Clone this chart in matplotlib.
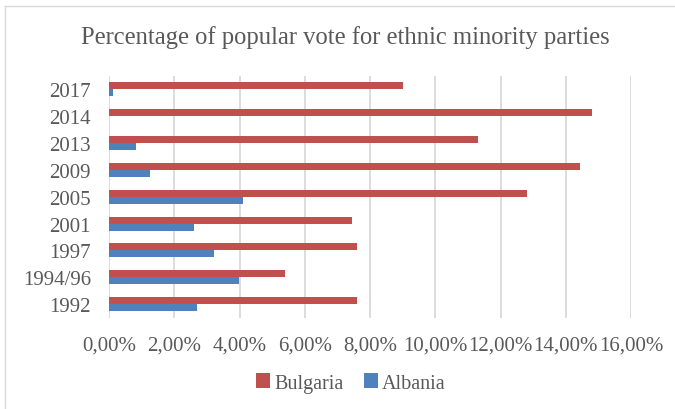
import numpy as np
import matplotlib
matplotlib.use("Agg")
import matplotlib.pyplot as plt
from matplotlib.lines import Line2D
from matplotlib.ticker import FuncFormatter, MultipleLocator

years = ["1992", "1994/96", "1997", "2001", "2005", "2009", "2013", "2014", "2017"]
bulgaria = [7.6, 5.4, 7.6, 7.45, 12.8, 14.45, 11.3, 14.8, 9.0]
albania = [2.71, 3.99, 3.21, 2.6, 4.12, 1.26, 0.84, 0.0, 0.13]

red = "#C0504D"
blue = "#4F81BD"
grey_txt = "#595959"

plt.rcParams['font.family'] = ['Liberation Serif', 'DejaVu Serif']

fig = plt.figure(figsize=(6.75, 4.1), dpi=100)
ax = fig.add_axes([109/675, 1 - 318.7/410, (631-109)/675, (318.7-76.7)/410])

y = np.arange(len(years))
h = 0.26
ax.barh(y + h/2, bulgaria, height=h, color=red, label="Bulgaria", zorder=3)
ax.barh(y - h/2, albania, height=h, color=blue, label="Albania", zorder=3)

ax.set_xlim(0, 16)
ax.set_ylim(-0.5, len(years) - 0.5)
ax.xaxis.set_major_locator(MultipleLocator(2))
ax.xaxis.set_major_formatter(FuncFormatter(lambda v, p: ("%.2f%%" % v).replace(".", ",")))
ax.set_yticks(y)
ax.set_yticklabels(years)
ax.grid(axis="x", color="#D9D9D9", linewidth=1.3, zorder=0)
for s in ax.spines.values():
    s.set_visible(False)
ax.tick_params(axis="x", length=0, labelsize=15, colors=grey_txt, pad=13)
ax.tick_params(axis="y", length=0, labelsize=15, colors=grey_txt, pad=13)

fig.text(345/675, 1 - 38/410, "Percentage of popular vote for ethnic minority parties",
         ha="center", va="center", fontsize=17.7, color=grey_txt)

ax.legend(loc="center", bbox_to_anchor=(351/675, 1 - 384/410), bbox_transform=fig.transFigure,
          ncol=2, frameon=False, fontsize=14.5, labelcolor=grey_txt,
          handlelength=0.7, handleheight=0.7, handletextpad=0.2, columnspacing=1.0)

fig.add_artist(Line2D([5/675, 1], [1 - 7/410, 1 - 7/410], color="#D9D9D9", linewidth=1))
fig.add_artist(Line2D([5/675, 5/675], [0, 1 - 7/410], color="#D9D9D9", linewidth=1))

fig.savefig("out.png", dpi=100)
